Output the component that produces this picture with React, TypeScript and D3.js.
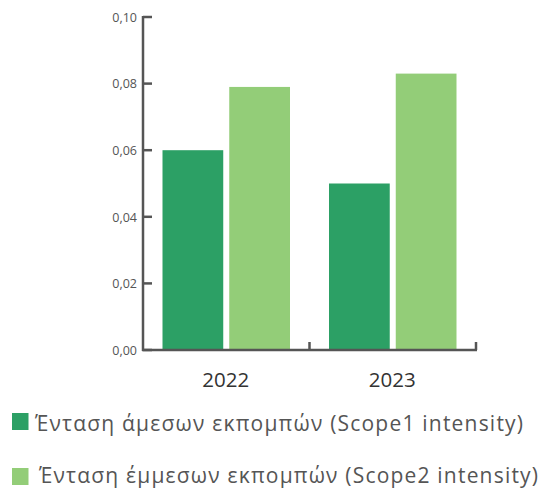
import React from "react";
import * as d3 from "d3";

const categories = ["2022", "2023"];
const seriesNames = [
  "Ένταση άμεσων εκπομπών (Scope1 intensity)",
  "Ένταση έμμεσων εκπομπών (Scope2 intensity)",
];
const scope1 = [0.06, 0.05];
const scope2 = [0.079, 0.083];
const yTicks = [0, 0.02, 0.04, 0.06, 0.08, 0.1];
const colors = ["#2ca065", "#93cd78"];

export default function App() {
  const W = 542, H = 489;
  const x0 = 143, x1 = 476, yTop = 17, yBot = 350;
  const y = d3.scaleLinear().domain([0, 0.1]).range([yBot, yTop]);
  const xBand = d3.scaleBand().domain(categories).range([x0, x1]).paddingInner(0).paddingOuter(0);
  const inner = d3.scaleBand().domain(["s1", "s2"]).range([19.5, xBand.bandwidth() - 19.5]).paddingInner(0.09);
  const series = [scope1, scope2];
  const axisColor = "#555";
  const textColor = "#555";
  const font = "'Open Sans', sans-serif";
  const legendX = [35, 39];
  const legendLen = [488, 499];
  return (
    <svg width={W} height={H} style={{ position: "absolute", left: 0, top: 0 }}>
      {categories.map((c, i) =>
        series.map((s, j) => (
          <rect
            key={c + j}
            x={(xBand(c) as number) + (inner(j === 0 ? "s1" : "s2") as number)}
            y={y(s[i])}
            width={inner.bandwidth()}
            height={yBot - y(s[i])}
            fill={colors[j]}
          />
        ))
      )}
      <line x1={x0} x2={x0} y1={yTop - 1} y2={yBot + 1} stroke={axisColor} strokeWidth={2.5} />
      <line x1={x0 - 1} x2={x1 + 1} y1={yBot} y2={yBot} stroke={axisColor} strokeWidth={2.5} />
      {yTicks.map((t) => (
        <g key={t}>
          <line x1={x0} x2={x0 + 9} y1={y(t)} y2={y(t)} stroke={axisColor} strokeWidth={2.5} />
          <text x={137} y={y(t) + 4.8} textAnchor="end" fontSize={12.5} fill={textColor} fontFamily={font}>
            {t.toFixed(2).replace(".", ",")}
          </text>
        </g>
      ))}
      {categories.map((c) => (
        <g key={c}>
          <line x1={(xBand(c) as number) + xBand.bandwidth()} x2={(xBand(c) as number) + xBand.bandwidth()} y1={yBot - 8} y2={yBot} stroke={axisColor} strokeWidth={2.5} />
          <text x={(xBand(c) as number) + xBand.bandwidth() / 2 - 0.5} y={387} textAnchor="middle" fontSize={20.5} fill="#333" fontFamily={font}>
            {c}
          </text>
        </g>
      ))}
      {seriesNames.map((n, j) => (
        <g key={n}>
          <rect x={12} y={413 + j * 55} width={16.5} height={17} fill={colors[j]} />
          <text x={legendX[j]} y={431 + j * 52} fontSize={21} fill={textColor} fontFamily={font}
            textLength={legendLen[j]} lengthAdjust="spacing">
            {n}
          </text>
        </g>
      ))}
    </svg>
  );
}
